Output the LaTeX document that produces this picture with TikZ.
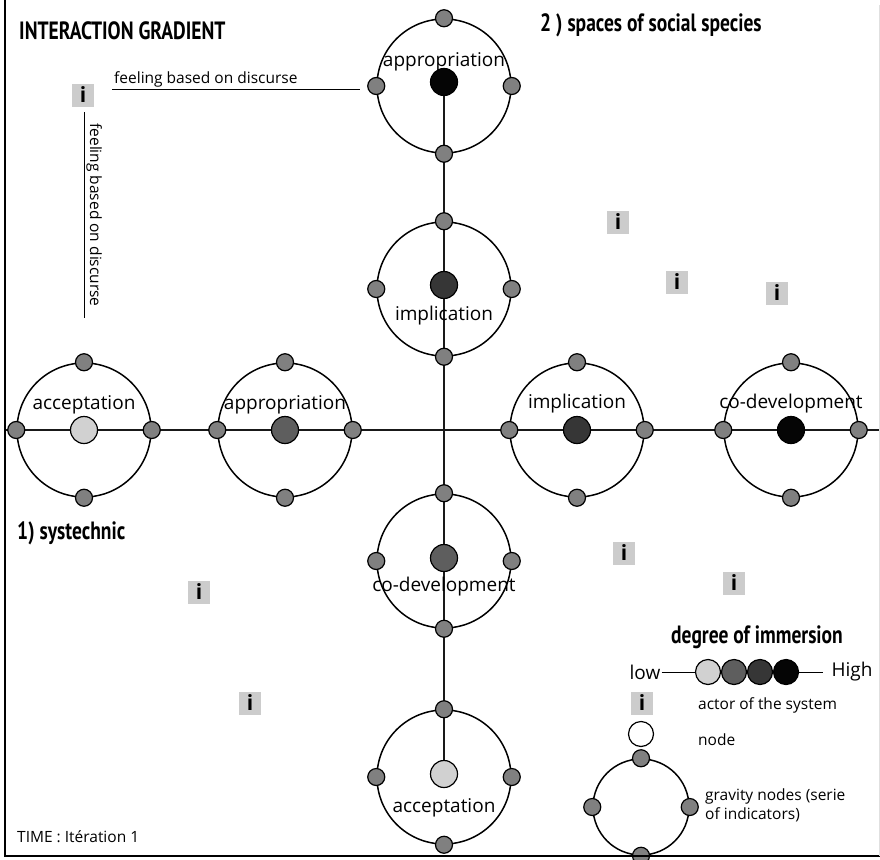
\documentclass[tikz,border=0pt]{standalone}
\usepackage{fontspec}
\setmainfont{Open Sans}
\newfontfamily\headfont[FakeStretch=0.78]{PT Sans}
\usetikzlibrary{positioning}
\pgfdeclarelayer{background}
\pgfsetlayers{background,main}

\definecolor{immA}{gray}{0.82}
\definecolor{immB}{gray}{0.37}
\definecolor{immC}{gray}{0.21}
\definecolor{immD}{gray}{0.02}
\definecolor{satgray}{gray}{0.5}

\begin{document}
\begin{tikzpicture}[x=1pt,y=-1pt,
    axisline/.style={line width=2pt, black!90},
    gravity/.style={circle, draw, line width=1.5pt, minimum size=134pt, inner sep=0pt},
    sat/.style={circle, draw, line width=1.2pt, fill=satgray, minimum size=17pt, inner sep=0pt},
    core/.style={circle, draw, line width=1.2pt, minimum size=27pt, inner sep=0pt},
    actor/.style={fill=black!20, minimum width=22pt, minimum height=23pt, inner sep=0pt,
      font=\bfseries\fontsize{21}{21}\selectfont},
    lbl/.style={inner sep=1pt, font=\fontsize{19}{19}\selectfont},
    small/.style={inner sep=2pt, font=\fontsize{15.5}{19}\selectfont},
    head/.style={inner sep=0pt, font=\headfont\bfseries\fontsize{25}{25}\selectfont}]
  \useasboundingbox (0,0) rectangle (880,859);

  % Gravity nodes: name/x/y/core shift/immersion/label/label shift
  \foreach \n/\x/\y/\dy/\f/\t/\ty in {h1/84/430/0/immA/acceptation/-25,
      h2/285/430/0/immB/appropriation/-25, h3/577/430/0/immC/implication/-26,
      h4/791/430/0/immD/co-development/-26, v1/444/86/-4/immD/appropriation/-24,
      v2/444/289/-4/immC/implication/27, v3/444/561/-3/immB/co-development/26,
      v4/444/777/-3/immA/acceptation/31} {
    \node[gravity] (\n) at (\x,\y) {};
    \node[core, fill=\f] (\n-c) at (\x,\y+\dy) {};
    \foreach \a in {north,south,east,west}
      \node[sat] (\n-\a) at (\n.\a) {};
    \node[lbl] (\n-t) at (\x,\y+\ty) {\t};
  }

  % Axes
  \coordinate (axl) at (5,430);
  \coordinate (axr) at (880,430);
  \begin{pgfonlayer}{background}
    \draw[axisline] (axl) -- (axr);
    \draw[axisline] (v1-c) -- (v4-c);
  \end{pgfonlayer}

  % Actors
  \node[actor] (i0) at (83,95) {i};
  \foreach \x/\y [count=\k] in {618/222,677/282,777/293,624/553,734/583,199/592,250/703}
    \node[actor] (i\k) at (\x,\y) {i};

  % Feeling based on discurse
  \coordinate (fh1) at (112,89);
  \coordinate (fh2) at (360,89);
  \draw[line width=1pt] (fh1) -- (fh2);
  \node[small, anchor=south west] (fht) at (fh1) {feeling based on discurse};
  \coordinate (fv1) at (84,112);
  \coordinate (fv2) at (84,318);
  \draw[line width=1pt] (fv1) -- (fv2)
    node[small, midway, rotate=-90, anchor=south] (fvt) {feeling based on discurse};

  % Titles
  \node[head, anchor=west] (title) at (19,31) {INTERACTION GRADIENT};
  \node[head, anchor=west] (social) at (540,25) {2 ) spaces of social species};
  \node[head, anchor=west] (systech) at (17,533) {1) systechnic};
  \node[small, anchor=west] (time) at (15,837) {TIME : Itération 1};

  % Legend
  \node[head] (degree) at (757,637) {degree of immersion};
  \node[lbl] (low) at (645,672) {low};
  \node[lbl] (high) at (852,672) {High};
  \draw[line width=1pt, shorten >=7pt] (low.east) -- (high.west);
  \foreach \f [count=\k] in {immA,immB,immC,immD}
    \node[core, minimum size=25pt, fill=\f] (deg\k) at (682+26*\k,672) {};
  \node[actor] (leg-i) at (642,703) {i};
  \node[small, anchor=west] (leg-it) at (696,705) {actor of the system};
  \node[core, minimum size=25pt, fill=white] (leg-n) at (641,734) {};
  \node[small, anchor=west] (leg-nt) at (696,740) {node};
  \node[gravity, minimum size=96pt] (leg-g) at (641,807) {};
  \foreach \a in {north,south,east,west}
    \node[sat] (leg-g-\a) at (leg-g.\a) {};
  \node[small, anchor=west, align=left] (leg-gt) at (703,805)
    {gravity nodes (serie\\of indicators)};

  % Frame
  \draw[line width=1.5pt] (5,0) -- (5,856) -- (880,856);
  \draw[black!12] (879,5) -- (879,856);
\end{tikzpicture}
\end{document}
